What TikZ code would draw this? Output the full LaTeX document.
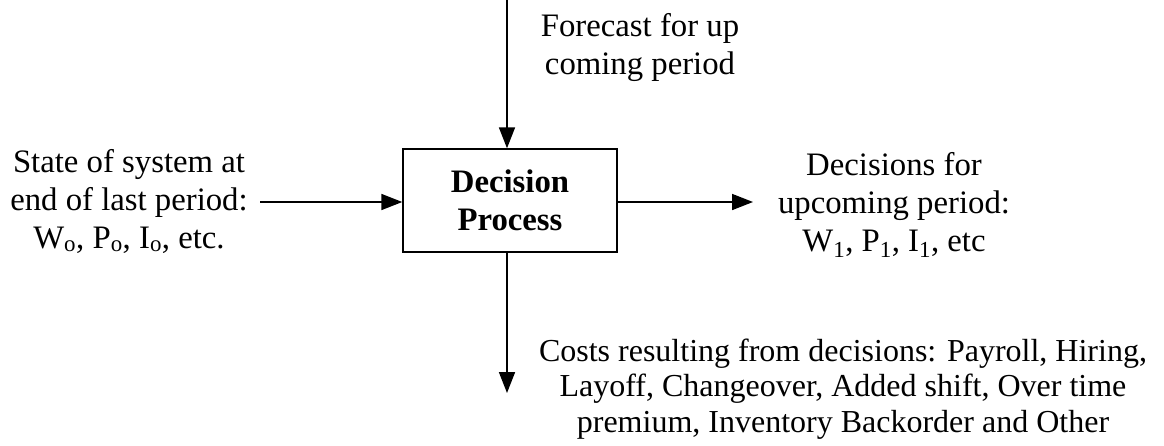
\documentclass[tikz,border=0pt]{standalone}
\usepackage{fontspec}
\setmainfont{Liberation Serif}
\usetikzlibrary{arrows.meta}
\begin{document}
\begin{tikzpicture}[x=1pt,y=-1pt,
  txt/.style={align=center,inner sep=0pt,font=\fontsize{32.75}{38}\selectfont},
  ctxt/.style={align=center,inner sep=0pt,font=\fontsize{32}{35.5}\selectfont},
  flow/.style={line width=1.7pt,-{Triangle[length=21pt,width=16pt]}},
  procbox/.style={draw,line width=1.4pt,minimum width=214pt,minimum height=103pt,inner sep=0pt,align=center,font=\bfseries\fontsize{32.75}{38}\selectfont}]
\useasboundingbox (0,0) rectangle (1164,445);
\node[procbox] (box) at (510,200.5) {Decision\\Process};
\coordinate (topc) at (507,0);
\coordinate (leftc) at (260,202);
\coordinate (rightc) at (753,202);
\coordinate (botc) at (507,393);
\node[txt] (fc) at (640,48) {Forecast for up\\coming period};
\node[txt] (state) at (129,201) {State of system at\\end of last period:\\W\textsubscript{o}, P\textsubscript{o}, I\textsubscript{o}, etc.};
\node[txt] (dec) at (894,205) {Decisions for\\upcoming period:\\W\textsubscript{1}, P\textsubscript{1}, I\textsubscript{1}, etc};
\node[ctxt] (cost) at (843,389) {Costs resulting from decisions: Payroll, Hiring,\\Layoff, Changeover, Added shift, Over time\\premium, Inventory Backorder and Other};
\draw[flow] (topc) -- (topc |- box.north);
\draw[flow] (leftc) -- (leftc -| box.west);
\draw[flow] (box.east |- rightc) -- (rightc);
\draw[flow] (box.south -| botc) -- (botc);
\end{tikzpicture}
\end{document}
